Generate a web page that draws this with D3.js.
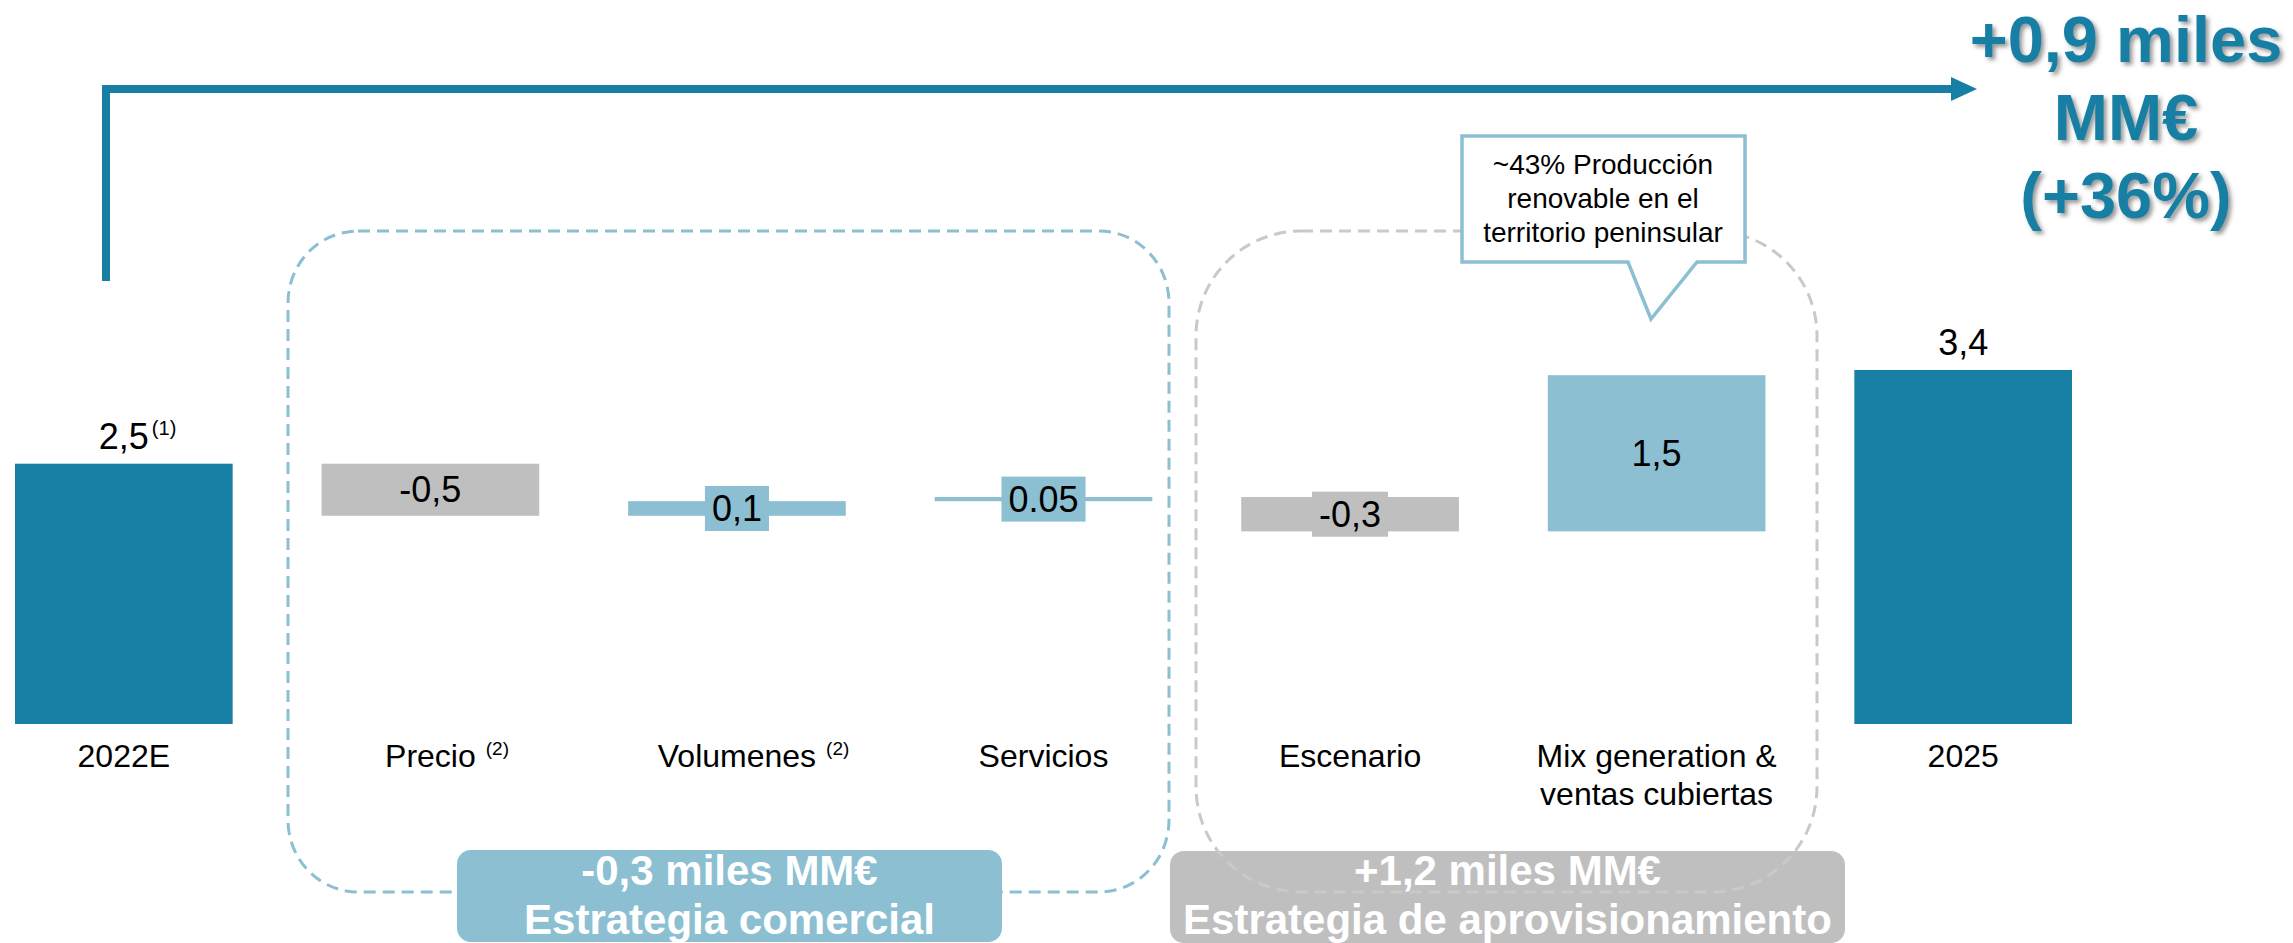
<!DOCTYPE html>
<html>
<head>
<meta charset="utf-8">
<script src="https://cdn.jsdelivr.net/npm/d3@7"></script>
<style>
  body { margin: 0; background: #fff; }
  text { font-family: "Liberation Sans", Arial, sans-serif; }
</style>
</head>
<body>
<svg id="chart"></svg>
<script>
const width = 2293
const height = 943

// data
const categories = ["2022E", "Precio", "Volumenes", "Servicios", "Escenario", "Mix generation &|ventas cubiertas", "2025"]
const catNotes = ["", "(2)", "(2)", "", "", "", ""]
const kinds = ["total", "delta", "delta", "delta", "delta", "delta", "total"]
const values = [2.5, -0.5, 0.14, 0.04, -0.33, 1.5, 3.4]
const valueLabels = ["2,5", "-0,5", "0,1", "0.05", "-0,3", "1,5", "3,4"]
const valueNotes = ["(1)", "", "", "", "", "", ""]
const totalLines = ["+0,9 miles", "MM€", "(+36%)"]
const groupLines = [["-0,3 miles MM€", "Estrategia comercial"], ["+1,2 miles MM€", "Estrategia de aprovisionamiento"]]
const calloutLines = ["~43% Producción", "renovable en el", "territorio peninsular"]

const dark = "#167fa3"
const light = "#8bbfd1"
const grey = "#bfbfbf"

var svg = d3.select("#chart").attr("width", width).attr("height", height)

var defs = svg.append("defs")
var f = defs.append("filter").attr("id", "shadow").attr("x", "-10%").attr("y", "-10%").attr("width", "130%").attr("height", "140%")
f.append("feDropShadow").attr("dx", 3).attr("dy", 3).attr("stdDeviation", 2)
    .attr("flood-color", "#444").attr("flood-opacity", 0.55)

var x = d3.scaleBand()
    .domain(categories)
    .range([15, 2072])
    .paddingInner(0.29)
    .paddingOuter(0)

var y = d3.scaleLinear()
    .domain([0, 3.4])
    .range([724, 370])

// waterfall steps
var cum = 0
var bars = values.map(function (v, i) {
    var b
    if (kinds[i] == "total") {
        b = { y0: 0, y1: v }
        cum = v
    } else {
        b = { y0: cum, y1: cum + v }
        cum += v
    }
    b.i = i
    b.v = v
    b.cat = categories[i]
    return b
})

function barColor(b) {
    if (kinds[b.i] == "total") return dark
    return b.v < 0 ? grey : light
}

// group boxes (grey label sits under its dashed frame, blue label on top)
svg.append("rect")
    .attr("x", 1170).attr("y", 851).attr("width", 675).attr("height", 92)
    .attr("rx", 14).attr("fill", grey)

svg.append("rect")
    .attr("x", 1196).attr("y", 231).attr("width", 621).attr("height", 661)
    .attr("rx", 105).attr("ry", 105)
    .attr("fill", "none").attr("stroke", "#c9c9c9").attr("stroke-width", 3)
    .attr("stroke-dasharray", "12,7")

svg.append("rect")
    .attr("x", 288).attr("y", 231).attr("width", 881).attr("height", 661)
    .attr("rx", 70).attr("ry", 72)
    .attr("fill", "none").attr("stroke", light).attr("stroke-width", 3)
    .attr("stroke-dasharray", "12,7")

svg.append("rect")
    .attr("x", 457).attr("y", 850).attr("width", 545).attr("height", 92)
    .attr("rx", 14).attr("fill", light)

var groupCenters = [729.5, 1507.5]
groupLines.forEach(function (lines, g) {
    svg.append("g").selectAll("text")
        .data(lines)
        .enter()
        .append("text")
        .attr("x", groupCenters[g])
        .attr("y", function (d, i) { return 885 + i * 49 })
        .attr("text-anchor", "middle")
        .style("font-size", "42px")
        .style("font-weight", "bold")
        .style("fill", "#fff")
        .text(function (d) { return d })
})

// bars
svg.append("g").selectAll("rect")
    .data(bars)
    .enter()
    .append("rect")
    .attr("x", function (d) { return x(d.cat) })
    .attr("y", function (d) { return y(Math.max(d.y0, d.y1)) })
    .attr("width", x.bandwidth())
    .attr("height", function (d) { return Math.abs(y(d.y0) - y(d.y1)) })
    .attr("fill", barColor)

// value labels
var vl = svg.append("g")
bars.forEach(function (b) {
    var cx = x(b.cat) + x.bandwidth() / 2
    var t, base
    if (kinds[b.i] == "total") {
        base = y(b.y1) - 15
        t = vl.append("text").attr("x", cx).attr("y", base)
    } else {
        var cy = (y(b.y0) + y(b.y1)) / 2
        base = cy + 12.5
        var h = Math.abs(y(b.y0) - y(b.y1))
        t = vl.append("text").attr("x", cx).attr("y", base)
        t.text(valueLabels[b.i]).style("font-size", "36px")
        if (h < 45) {
            var w = t.node().getComputedTextLength() + 14
            vl.insert("rect", "text")
                .attr("x", cx - w / 2).attr("y", cy - 22.5)
                .attr("width", w).attr("height", 45)
                .attr("fill", barColor(b))
        }
    }
    t.attr("text-anchor", "middle")
        .style("font-size", "36px")
        .style("fill", "#000")
        .text(valueLabels[b.i])
    if (valueNotes[b.i]) {
        var len = t.node().getComputedTextLength()
        vl.append("text")
            .attr("x", cx + len / 2 + 3)
            .attr("y", base - 14)
            .style("font-size", "20px")
            .text(valueNotes[b.i])
    }
})

// category labels
var cl = svg.append("g")
categories.forEach(function (c, i) {
    var cx = x(c) + x.bandwidth() / 2
    var lines = c.split("|")
    lines.forEach(function (line, j) {
        var t = cl.append("text")
            .attr("x", cx)
            .attr("y", 767 + j * 38)
            .attr("text-anchor", "middle")
            .style("font-size", "32px")
            .style("fill", "#000")
            .text(line)
        if (j == 0 && catNotes[i]) {
            var len = t.node().getComputedTextLength()
            cl.append("text")
                .attr("x", cx + len / 2 + 10)
                .attr("y", 755)
                .style("font-size", "19px")
                .text(catNotes[i])
        }
    })
})

// big arrow
svg.append("path")
    .attr("d", "M106,281 V89 H1953")
    .attr("fill", "none")
    .attr("stroke", dark)
    .attr("stroke-width", 8)
svg.append("path")
    .attr("d", "M1951,77 L1977,89 L1951,101 Z")
    .attr("fill", dark)

svg.append("g").selectAll("text")
    .data(totalLines)
    .enter()
    .append("text")
    .attr("x", 2126)
    .attr("y", function (d, i) { return 62 + i * 78 })
    .attr("text-anchor", "middle")
    .style("font-size", "65px")
    .style("font-weight", "bold")
    .style("fill", dark)
    .attr("filter", "url(#shadow)")
    .text(function (d) { return d })

// callout
svg.append("path")
    .attr("d", "M1462,136 H1745 V262 H1697 L1651,319 L1628,262 H1462 Z")
    .attr("fill", "#fff")
    .attr("stroke", light)
    .attr("stroke-width", 3.5)

svg.append("g").selectAll("text")
    .data(calloutLines)
    .enter()
    .append("text")
    .attr("x", 1603)
    .attr("y", function (d, i) { return 174 + i * 34 })
    .attr("text-anchor", "middle")
    .style("font-size", "28px")
    .style("fill", "#000")
    .text(function (d) { return d })
</script>
</body>
</html>
